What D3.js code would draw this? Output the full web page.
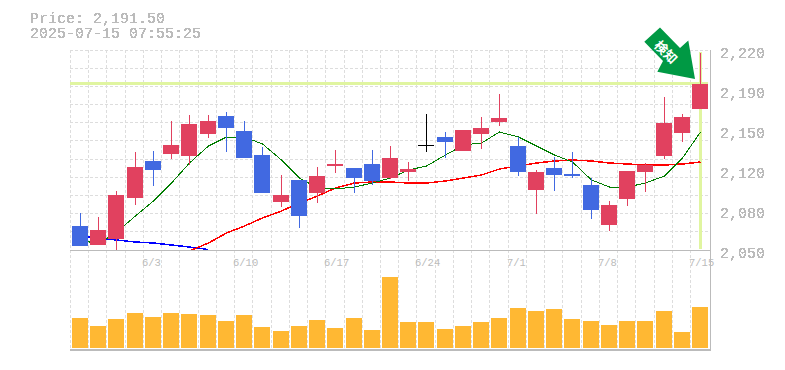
<!DOCTYPE html>
<html><head><meta charset="utf-8">
<script src="https://cdnjs.cloudflare.com/ajax/libs/d3/7.9.0/d3.min.js"></script>
<style>html,body{margin:0;padding:0;background:#fff}svg{display:block}
text{font-family:"Liberation Mono",monospace;fill:#bbb}</style></head><body>
<script>
const titleLines=["Price: 2,191.50","2025-07-15 07:55:25"];
const dateLabels=[[4,"6/3"],[9,"6/10"],[14,"6/17"],[19,"6/24"],[24,"7/1"],[29,"7/8"],[34,"7/15"]];
const yTicks=[2050,2084,2118,2152,2186,2220];
const opens=[2070.4,2054.25,2059.35,2094.2,2125.65,2131.6,2129.9,2148.6,2163.9,2151.15,2130.75,2090.8,2109.5,2098.45,2121.4,2119.7,2123.1,2111.2,2116.3,2139.25,2146.05,2134.15,2148.6,2158.8,2138.4,2101,2119.7,2114.6,2105.25,2071.25,2093.35,2116.3,2129.9,2149.45,2169.85];
const highs=[2081.45,2078.05,2100.15,2133.3,2134.15,2159.65,2164.75,2164.75,2167.3,2159.65,2137.55,2113.75,2109.5,2120.55,2135,2119.7,2135,2138.4,2124.8,2165.6,2150.3,2152,2163.05,2182.6,2146.05,2118,2129.05,2133.3,2111.2,2091.65,2117.15,2123.95,2180.05,2165.6,2217.45];
const lows=[2053.4,2054.25,2049.15,2088.25,2104.4,2127.35,2122.25,2145.2,2133.3,2128.2,2098.45,2086.55,2068.7,2089.95,2115.45,2098.45,2105.25,2110.35,2108.65,2133.3,2128.2,2134.15,2135.85,2155.4,2112.9,2080.6,2100.15,2111.2,2076.35,2066.15,2087.4,2099.3,2127.35,2141.8,2169.85];
const closes=[2053.4,2067,2096.75,2120.55,2118,2139.25,2157.1,2159.65,2153.7,2128.2,2098.45,2096.75,2078.9,2112.9,2123.1,2111.2,2108.65,2128.2,2118.85,2139.25,2141.8,2152,2153.7,2162.2,2116.3,2116.3,2113.75,2112.9,2084,2088.25,2117.15,2122.25,2157.95,2163.05,2191.5];
const volumes=[30,22,29,35,31,35,34,33,27,33,21,17,22,28,20,30,18,71,26,26,19,22,26,30,40,37,39,29,27,23,27,27,37,16,41];
const maShort=[2058.5,2055.1,2065.3,2078.9,2091.65,2106.95,2123.95,2138.4,2146.05,2146.05,2140.1,2126.5,2111.2,2102.7,2101.85,2103.55,2106.95,2111.2,2118,2121.4,2130.75,2139.25,2140.95,2150.3,2146.05,2138.4,2130.75,2124.8,2109.5,2103.55,2103.55,2106.95,2112.9,2128.2,2150.3];
const maMid=[null,null,null,null,null,null,2049.15,2055.95,2064.45,2070.4,2077.2,2083.15,2089.95,2095.9,2102.7,2106.95,2107.8,2107.8,2106.95,2106.95,2108.65,2111.2,2113.75,2118.85,2121.4,2123.95,2125.65,2126.5,2125.65,2123.95,2123.1,2122.25,2122.25,2123.1,2124.8];
const maLong=[2061.9,2060.2,2058.5,2056.8,2055.95,2054.25,2052.55,2050.4];
const lastPrice=2191.5;
const colors={up:"#e1415f",down:"#4169e1",flat:"#000",vol:"#ffb833",grid:"#ddd",axis:"#bbb",mark:"#e0f5a0",arrow:"#009944"};
const arrowShape=[[-35,-51.5],[-50.7,-37.3],[-32,-18],[-37.7,-7.3],[0,0],[-6.7,-38.5],[-15,-31]];

const W=785,H=370,L=70,R=710,T=50,B=250,VB=350;
const svg=d3.select("body").append("svg").attr("width",W).attr("height",H);
svg.append("defs").append("filter").attr("id","alias").attr("x",0).attr("y",0).attr("width",1).attr("height",1)
 .append("feComponentTransfer").append("feFuncA").attr("type","discrete").attr("tableValues","0 1 1");
const idx=d3.range(opens.length);
const band=d3.scaleBand().domain(idx).range([L,R-1.76]);
const gx=i=>Math.round(band(i));
const y=d3.scaleLinear().domain([2050,2220]).range([B,T]);
const yv=d3.scaleLinear().domain([0,100]).range([348,248]);
const crisp=v=>Math.floor(v)+.5;

// grid
const g=svg.append("g").attr("stroke",colors.grid).attr("stroke-dasharray","3,2").attr("shape-rendering","crispEdges");
g.selectAll("line.v").data(idx).join("line").attr("x1",i=>gx(i)+.5).attr("x2",i=>gx(i)+.5).attr("y1",T).attr("y2",VB);
g.selectAll("line.h").data(d3.range(11)).join("line").attr("class","h").attr("x1",L).attr("x2",R)
 .attr("y1",i=>crisp(T+i*(B-T)/11)).attr("y2",i=>crisp(T+i*(B-T)/11));

// highlight lines
const lastX=gx(idx.length-1)+10;
svg.append("rect").attr("x",L).attr("y",Math.floor(y(lastPrice))-1).attr("width",R-L-2).attr("height",3).attr("fill",colors.mark);
svg.append("rect").attr("x",lastX-1).attr("y",T+2).attr("width",3).attr("height",B-T-3).attr("fill",colors.mark);

// moving averages
const ln=d3.line().defined(d=>d!=null).x((d,i)=>gx(i)+10.5).y(d=>y(d));
const addLine=(data,color,w)=>svg.append("path").attr("d",ln(data)).attr("fill","none").attr("stroke",color).attr("stroke-width",w).attr("shape-rendering","crispEdges");
addLine(maLong,"#0000ff",1.5);
addLine(maMid,"#ff0000",1.5);
addLine(maShort,"#007d00",1);

// candles
const col=i=>closes[i]>opens[i]?colors.up:closes[i]<opens[i]?colors.down:colors.flat;
const ry=v=>Math.round(y(v));
const c=svg.append("g").attr("shape-rendering","crispEdges");
c.selectAll("rect.w").data(idx).join("rect").attr("class","w").attr("x",i=>gx(i)+10).attr("width",1)
 .attr("y",i=>ry(highs[i])).attr("height",i=>Math.max(1,ry(lows[i])-ry(highs[i]))).attr("fill",col);
c.selectAll("rect.b").data(idx).join("rect").attr("class","b").attr("x",i=>gx(i)+2).attr("width",16)
 .attr("y",i=>ry(Math.max(opens[i],closes[i]))).attr("height",i=>Math.max(1,ry(Math.min(opens[i],closes[i]))-ry(Math.max(opens[i],closes[i])))).attr("fill",col);

// volumes
c.selectAll("rect.v").data(idx).join("rect").attr("class","v").attr("x",i=>gx(i)+2).attr("width",16)
 .attr("y",i=>yv(volumes[i])).attr("height",i=>yv(0)-yv(volumes[i])).attr("fill",colors.vol);

// axes frame
const ax=svg.append("g").attr("fill",colors.axis).attr("shape-rendering","crispEdges");
ax.append("rect").attr("x",L).attr("y",B).attr("width",R-L+1).attr("height",1);
ax.append("rect").attr("x",L).attr("y",VB-1).attr("width",R-L+1).attr("height",2);
ax.append("rect").attr("x",R).attr("y",T).attr("width",1).attr("height",VB-T);

// labels
const labels=svg.append("g").attr("filter","url(#alias)");
labels.append("g").selectAll("text").data(titleLines).join("text").attr("x",30).attr("y",(d,i)=>23+i*15).attr("font-size",15).text(d=>d);
labels.append("g").selectAll("text").data(yTicks).join("text").attr("x",720).attr("y",d=>y(d)+8).attr("font-size",15)
 .text(d=>d3.format(",")(Math.round(d/10)*10));
svg.append("g").selectAll("text").data(dateLabels).join("text").attr("x",d=>gx(d[0])-1).attr("y",266).attr("font-size",10.5).text(d=>d[1]);

// marker arrow
const tipX=lastX-5,tipY=ry(lastPrice)-5;
svg.append("polygon").attr("points",arrowShape.map(p=>[tipX+p[0],tipY+p[1]].join(",")).join(" ")).attr("fill",colors.arrow);
svg.append("text").attr("transform",`translate(${tipX-29},${tipY-27}) rotate(45)`).attr("text-anchor","middle")
 .style("font-family","'Noto Sans CJK JP'").style("fill","#fff").attr("font-weight","bold").attr("font-size",13).attr("y",5).text("検知");
</script></body></html>
